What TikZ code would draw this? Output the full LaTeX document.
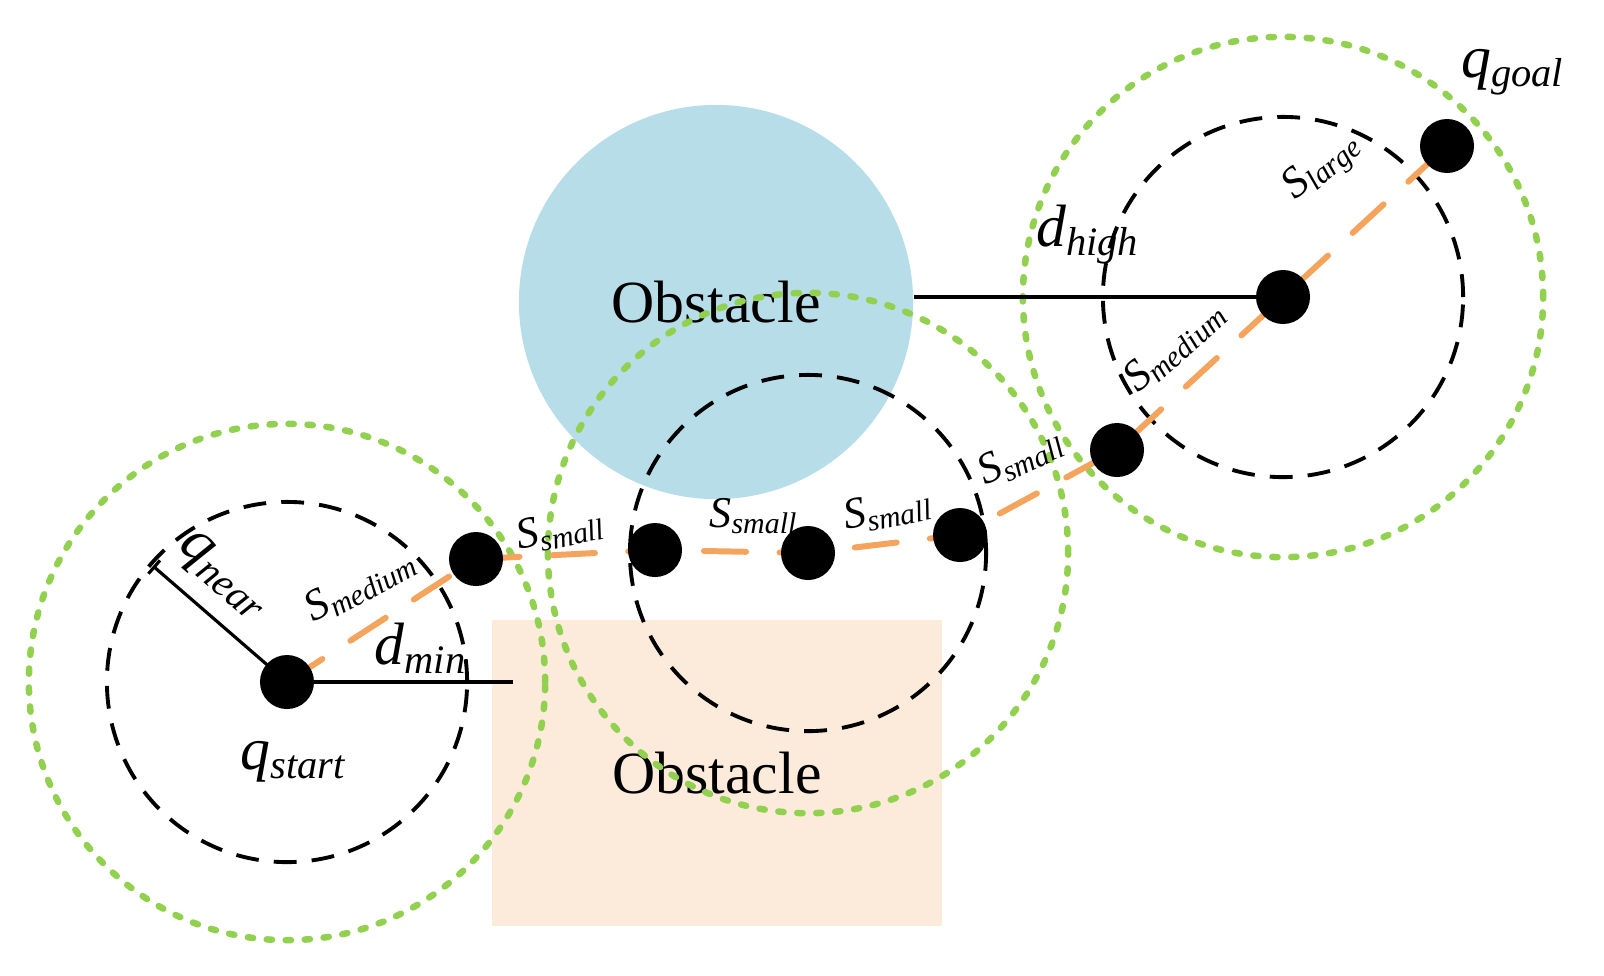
\documentclass[tikz,border=0pt]{standalone}
\usepackage{fontspec}
\setmainfont{Liberation Serif}
\usetikzlibrary{arrows.meta}

\definecolor{obsblue}{RGB}{183,221,232}
\definecolor{obspeach}{RGB}{252,235,219}
\definecolor{ringgreen}{RGB}{146,208,80}
\definecolor{routeorange}{RGB}{244,164,92}

\pgfdeclarelayer{front}
\pgfsetlayers{main,front}

% italic symbol with a lowered, smaller italic index
\newcommand{\symsub}[2]{\textit{#1}\raisebox{-0.15em}{\fontsize{\subsize}{\subsize}\selectfont\textit{#2}}}
\def\subsize{11}

\tikzset{
  dot/.style={circle,fill=black,minimum size=0.54cm,inner sep=0pt},
  innerring/.style={black,line width=1.1pt,dash pattern=on 6.5pt off 4.3pt},
  outerring/.style={ringgreen,line width=1.85pt,line cap=round,dash pattern=on 1.5pt off 3.9pt},
  route/.style={routeorange,line width=1.7pt,line cap=round,dash pattern=on 12pt off 9.5pt},
  bound/.style={black,line width=0.9pt},
  biglabel/.style={font=\fontsize{17}{20}\selectfont\def\subsize{11.5},inner sep=0pt},
  steplabel/.style={font=\fontsize{12.5}{14}\selectfont\def\subsize{8.5},inner sep=0pt},
}

\begin{document}
\begin{tikzpicture}[x=0.01cm,y=-0.01cm]
            \useasboundingbox (0,0) rectangle (1604,975);

            % sampled states, on top of everything
            \begin{pgfonlayer}{front}
            \node[dot] (qs) at (287,682) {};
            \node[dot] (p1) at (476,559) {};
            \node[dot] (p2) at (655,550) {};
            \node[dot] (p3) at (808,553) {};
            \node[dot] (p4) at (960,535) {};
            \node[dot] (p5) at (1117,450) {};
            \node[dot] (p6) at (1283,297) {};
            \node[dot] (qg) at (1447,146) {};
            \end{pgfonlayer}

            % obstacles
            \node[circle,fill=obsblue,minimum size=3.94cm,biglabel] (obsA) at (716,302) {Obstacle};
            \node[rectangle,fill=obspeach,minimum width=4.49cm,minimum height=3.06cm,biglabel] (obsB) at (717,773) {Obstacle};

            % search regions
            \draw[innerring] (qs) circle[radius=1.8cm];
            \draw[outerring] (qs) circle[radius=2.58cm];
            \draw[innerring] (p3) circle[radius=1.78cm];
            \draw[outerring] (p3) circle[radius=2.6cm];
            \draw[innerring] (p6) circle[radius=1.8cm];
            \draw[outerring] (p6) circle[radius=2.6cm];

            % distances
            \coordinate (nearend) at (153,566);
            \draw[bound,-{Bar[width=5pt,line width=0.9pt]}] (qs.center) -- (nearend);
            \draw[bound] (qs.center) -- ([xshift=6]obsB.west |- qs);
            \draw[bound] (obsA.east |- p6) -- (p6.center);

            % path
            \draw[route] (qs.center) -- (p1.center) -- (p2.center) -- (p3.center) -- (p4.center) -- (p5.center) -- (p6.center) -- (qg.center);

            \node[biglabel,rotate=-41] (lnear) at (222,576) {\symsub{q}{near}};
            \node[biglabel] (lstart) at (293,762) {\symsub{q}{start}};
            \node[biglabel] (ldmin) at (420,648) {\symsub{d}{min}};
            \node[biglabel] (ldhigh) at (1087,235) {\symsub{d}{high}};
            \node[biglabel] (lgoal) at (1512,72) {\symsub{q}{goal}};

            \node[steplabel,rotate=28] (s1) at (360,585) {\symsub{S}{medium}};
            \node[steplabel,rotate=12] (s2) at (560,530) {\symsub{S}{small}};
            \node[steplabel] (s3) at (753,516) {\symsub{S}{small}};
            \node[steplabel,rotate=11] (s4) at (887,510) {\symsub{S}{small}};
            \node[steplabel,rotate=25] (s5) at (1020,457) {\symsub{S}{small}};
            \node[steplabel,rotate=42] (s6) at (1174,346) {\symsub{S}{medium}};
            \node[steplabel,rotate=40] (s7) at (1322,167) {\symsub{S}{large}};
        \end{tikzpicture}
\end{document}
